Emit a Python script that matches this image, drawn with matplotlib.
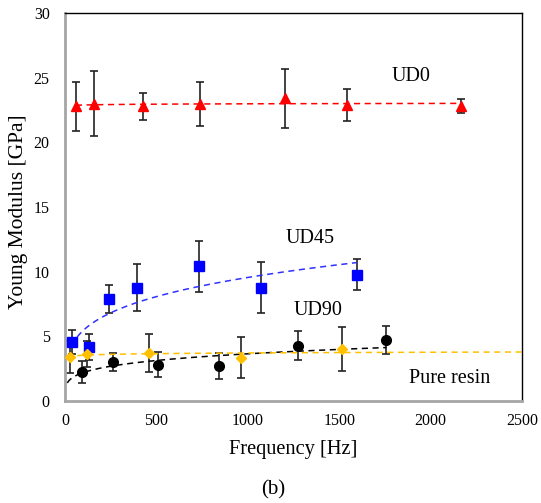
import numpy as np
import matplotlib
matplotlib.use('Agg')
import matplotlib.pyplot as plt

# data
ud0_f = [60, 159, 428, 738, 1205, 1541, 2166]
ud0_E = [22.8, 23.0, 22.8, 23.0, 23.4, 22.9, 22.8]
ud0_err = [1.9, 2.5, 1.05, 1.7, 2.3, 1.25, 0.55]

ud45_f = [36, 131, 239, 392, 735, 1070, 1596]
ud45_E = [4.55, 4.15, 7.9, 8.77, 10.4, 8.77, 9.77]
ud45_err = [0.95, 1.0, 1.1, 1.8, 1.95, 2.0, 1.2]

ud90_f = [91, 263, 509, 843, 1275, 1758]
ud90_E = [2.22, 2.99, 2.81, 2.73, 4.25, 4.69]
ud90_err = [0.83, 0.7, 0.94, 1.0, 1.12, 1.1]

resin_f = [27, 119, 461, 961, 1513]
resin_E = [3.42, 3.6, 3.71, 3.35, 4.02]
resin_err = [1.25, 1.0, 1.47, 1.56, 1.72]

# trendline range (Excel power trendlines, some with forecast)
trend_range = {
    'ud0': (60, 2166),
    'ud45': (36, 1596),
    'ud90': (13, 1758),
    'resin': (10, 2500),
}


def power_fit(x, y, lo, hi):
    # same as Excel power trendline: linear fit in log-log
    p = np.polyfit(np.log(x), np.log(y), 1)
    xs = np.linspace(lo, hi, 200)
    return xs, np.exp(np.polyval(p, np.log(xs)))


plt.rcParams['font.family'] = ['Liberation Serif', 'DejaVu Serif']

fig = plt.figure(figsize=(5.41, 5.03), dpi=100)
ax = fig.add_axes([0.120, 0.203, 0.845, 0.771])

series = [
    (ud0_f, ud0_E, ud0_err, '#FF0000', '^', 7, '#FF0000', 'ud0'),
    (ud45_f, ud45_E, ud45_err, '#0000FF', 's', 7, '#3030FF', 'ud45'),
    (ud90_f, ud90_E, ud90_err, '#000000', 'o', 7, '#000000', 'ud90'),
    (resin_f, resin_E, resin_err, '#FFC000', 'D', 5.5, '#FFC000', 'resin'),
]

for f, E, err, col, mk, ms, tcol, key in series:
    ax.errorbar(f, E, yerr=err, fmt='none', ecolor='#222222', elinewidth=1.2,
                capsize=3.2, capthick=1.2, zorder=2)
    ax.plot(f, E, linestyle='none', marker=mk, markersize=ms, color=col,
            markeredgecolor=col, zorder=4)
    xs, ys = power_fit(f, E, *trend_range[key])
    ax.plot(xs, ys, linestyle=(0, (4, 3)), color=tcol, linewidth=1.1, zorder=3)

ax.text(1890, 25.06, 'UD0', fontsize=14.5, ha='center', va='center')
ax.text(1340, 12.6, 'UD45', fontsize=14.5, ha='center', va='center')
ax.text(1384, 6.96, 'UD90', fontsize=14.5, ha='center', va='center')
ax.text(2106, 1.7, 'Pure resin', fontsize=14.5, ha='center', va='center')

ax.set_xlim(0, 2500)
ax.set_ylim(0, 30)
ax.set_xticks(np.arange(0, 2501, 500))
ax.set_yticks(np.arange(0, 31, 5))
ax.tick_params(length=0, labelsize=11.5)
ax.tick_params(axis='y', pad=11)
ax.tick_params(axis='x', pad=9)

for s in ['left', 'bottom']:
    ax.spines[s].set_color('#A6A6A6')
    ax.spines[s].set_linewidth(2)
for s in ['top', 'right']:
    ax.spines[s].set_color('black')
    ax.spines[s].set_linewidth(1)

ax.set_xlabel('Frequency [Hz]', fontsize=14.7)
ax.set_ylabel('Young Modulus [GPa]', fontsize=15.5)
ax.xaxis.set_label_coords(0.499, -0.1)
ax.yaxis.set_label_coords(-0.081, 0.487)
fig.text(273 / 541, 1 - 490 / 503, '(b)', fontsize=15, ha='center', va='center')

fig.savefig('out.png', dpi=100)
